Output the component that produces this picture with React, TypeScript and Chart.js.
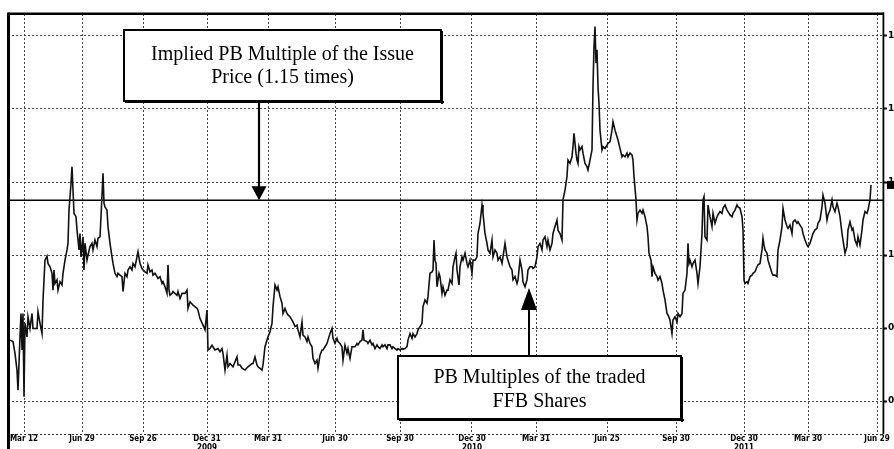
import React, { useEffect, useRef } from "react";
import { Chart, registerables } from "chart.js";

Chart.register(...registerables);

// trading-day index (0 = first session shown) and PB multiple of the traded FFB shares
const days = [
  2, 5, 7, 9, 10, 11, 12, 13, 14, 15, 16, 17, 19, 20, 22, 24, 25, 29, 30, 32, 34, 35, 37, 39, 40, 42, 44, 45, 46, 47,
  49, 50, 52, 54, 55, 57, 59, 60, 61, 63, 64, 65, 66, 68, 69, 71, 72, 73, 75, 76, 77, 79, 80, 82, 84, 85, 87, 89, 90, 92,
  93, 95, 96, 97, 99, 100, 102, 104, 105, 107, 109, 110, 112, 114, 115, 117, 119, 120, 122, 124, 125, 127, 129, 130, 132, 134, 135, 137, 139, 140,
  142, 144, 145, 147, 149, 150, 152, 154, 155, 157, 159, 160, 161, 162, 164, 165, 169,
  170, 172, 174, 177, 179, 180, 182, 185, 189, 190, 192, 195, 197, 199, 200, 202, 204, 207, 210, 212, 214, 215, 217, 219, 220, 222, 225, 227, 229, 230,
  232, 234, 237, 240, 244, 245, 247, 249, 250, 252, 254, 255, 257, 260, 262, 264, 265, 267, 269, 270, 272, 274, 275, 277, 279, 280, 282, 284, 285, 287,
  289, 290, 292, 294, 295, 297, 299, 300, 302, 304, 305, 307, 309, 310, 312, 314, 315, 317, 319, 320, 322, 324, 325, 327, 329, 330, 332, 334, 335, 337,
  339, 340, 342, 344, 347,
  349, 350, 352, 354, 355, 356, 359, 360, 362, 364, 365, 367, 369, 370, 372, 374, 375, 377, 379, 380, 382, 384, 385, 387, 389, 390, 392, 394, 395, 397,
  399, 400, 402, 404, 405, 407, 409, 410, 412, 414, 415, 417, 419, 420, 422, 424, 425, 426, 427, 428, 429, 431, 432, 434, 435, 437, 439, 440, 442, 444,
  445, 447, 448, 449, 451, 452, 454, 455, 457, 459, 460, 462, 464, 465, 467, 469, 470, 472, 474, 475, 477, 479, 480, 482, 484, 485, 487, 489, 490, 492,
  494, 495, 497, 499, 500, 502, 504, 505, 507, 509, 510, 512, 514, 515, 517, 519, 520, 522,
  524, 525, 527, 529, 530, 532, 534, 535, 537, 539, 540, 542, 544, 545, 547, 549, 550, 552, 554, 555, 557, 559, 560, 562, 564, 565, 566, 568, 569, 570,
  571, 572, 574, 575, 577, 579, 580, 582, 584, 585, 586, 587, 588, 589, 590, 591, 592, 594, 595, 597, 599, 600, 602, 604, 605, 607, 609, 610, 612, 614,
  615, 617, 619, 620, 622, 624, 625, 626, 628, 629, 630, 632, 634, 635, 637, 639, 640, 641, 643, 644, 645, 647, 649, 650, 652, 654, 655, 657, 659, 660,
  662, 664, 665, 667, 669, 670, 672, 674, 675, 677, 679, 680, 681, 682, 684, 685, 687, 689, 690, 692, 694, 695,
  696, 697, 699, 700, 702, 704, 705, 707, 709, 710, 712, 714, 715, 717, 719, 720, 722, 724, 725, 727, 729, 730, 732, 734, 735, 736, 737, 739, 740, 742,
  744, 745, 747, 749, 750, 752, 754, 755, 756, 757, 759, 760, 762, 764, 765, 767, 769, 770, 772, 774, 775, 777, 779, 780, 782, 784, 785, 787, 789, 790,
  792, 794, 795, 797, 799, 800, 802, 804, 805, 807, 809, 810, 812, 814, 815, 817, 819, 820, 822, 824, 825, 827, 829, 830, 832, 834, 835, 837, 839, 840,
  842, 844, 845, 847, 849, 850, 852, 854, 855, 857, 859, 860, 862, 863,
];

const pbMultiple = [
  0.767, 0.763, 0.731, 0.685, 0.63, 0.703, 0.776, 0.84, 0.74, 0.84, 0.612, 0.813, 0.776, 0.831, 0.799, 0.84, 0.799, 0.799, 0.845, 0.813, 0.785, 0.877, 0.986, 0.997, 0.977, 0.968, 0.95, 0.904, 0.959, 0.922,
  0.932, 0.904, 0.927, 0.918, 0.95, 0.986, 1.014, 1.032, 1.123, 1.196, 1.242, 1.178, 1.114, 1.105, 1.069, 1.014, 1.059, 0.995, 1.05, 0.959, 1.032, 0.986, 1.0, 1.023, 1.032, 1.014, 1.041, 1.023, 1.046, 1.05,
  1.105, 1.224, 1.142, 1.132, 1.123, 1.078, 1.032, 0.995, 0.977, 0.95, 0.941, 0.95, 0.945, 0.941, 0.9, 0.95, 0.941, 0.959, 0.968, 0.959, 0.977, 0.968, 0.995, 1.009, 0.977, 0.963, 0.959, 0.954, 0.95, 0.973,
  0.954, 0.959, 0.945, 0.95, 0.941, 0.936, 0.941, 0.922, 0.927, 0.913, 0.895, 0.973, 0.904, 0.89, 0.895, 0.9, 0.89,
  0.9, 0.881, 0.895, 0.895, 0.904, 0.854, 0.872, 0.863, 0.854, 0.849, 0.826, 0.808, 0.795, 0.849, 0.74, 0.744, 0.753, 0.74, 0.744, 0.735, 0.744, 0.731, 0.685, 0.726, 0.694, 0.703, 0.694, 0.708, 0.721, 0.699,
  0.699, 0.69, 0.685, 0.694, 0.703, 0.703, 0.721, 0.699, 0.694, 0.69, 0.685, 0.699, 0.749, 0.776, 0.79, 0.813, 0.858, 0.918, 0.904, 0.913, 0.886, 0.868, 0.84, 0.854, 0.84, 0.836, 0.831, 0.822, 0.817, 0.804,
  0.808, 0.795, 0.776, 0.817, 0.781, 0.776, 0.763, 0.776, 0.758, 0.749, 0.717, 0.703, 0.712, 0.69, 0.726, 0.74, 0.74, 0.749, 0.758, 0.767, 0.785, 0.799, 0.772, 0.758, 0.772, 0.763, 0.758, 0.749, 0.712, 0.753,
  0.731, 0.744, 0.717, 0.749, 0.749,
  0.758, 0.754, 0.763, 0.767, 0.795, 0.767, 0.763, 0.758, 0.767, 0.754, 0.758, 0.744, 0.754, 0.749, 0.744, 0.754, 0.749, 0.754, 0.744, 0.754, 0.754, 0.744, 0.749, 0.744, 0.74, 0.744, 0.74, 0.744, 0.742, 0.744,
  0.749, 0.767, 0.785, 0.772, 0.785, 0.776, 0.785, 0.795, 0.804, 0.813, 0.859, 0.877, 0.868, 0.886, 0.95, 0.954, 0.959, 1.041, 0.986, 0.977, 0.913, 0.95, 0.941, 0.895, 0.913, 0.89, 0.904, 0.904, 0.932, 0.922,
  0.968, 0.995, 1.005, 0.959, 0.918, 0.968, 0.995, 0.986, 1.005, 0.977, 0.968, 0.986, 0.95, 0.986, 0.986, 0.995, 1.059, 1.087, 1.137, 1.114, 1.059, 1.032, 1.014, 1.005, 1.041, 0.995, 1.014, 1.005, 0.986, 0.995,
  0.977, 0.995, 1.032, 0.995, 0.986, 0.968, 0.959, 0.932, 0.941, 0.922, 0.932, 0.986, 0.959, 0.927, 0.913, 0.932, 0.959, 0.968,
  0.968, 0.963, 0.968, 0.995, 1.023, 1.032, 1.014, 1.041, 1.05, 1.023, 1.041, 1.014, 1.032, 1.059, 1.078, 1.096, 1.068, 1.059, 1.041, 1.151, 1.178, 1.215, 1.26, 1.251, 1.269, 1.297, 1.333, 1.279, 1.26, 1.251,
  1.297, 1.288, 1.297, 1.279, 1.251, 1.242, 1.233, 1.26, 1.288, 1.461, 1.571, 1.626, 1.525, 1.562, 1.461, 1.415, 1.342, 1.288, 1.297, 1.292, 1.301, 1.306, 1.31, 1.342, 1.365, 1.342, 1.324, 1.315, 1.292, 1.269,
  1.274, 1.269, 1.279, 1.269, 1.279, 1.274, 1.26, 1.215, 1.151, 1.096, 1.114, 1.123, 1.114, 1.123, 1.105, 1.078, 1.05, 1.005, 0.986, 0.941, 0.968, 0.95, 0.941, 0.931, 0.941, 0.922, 0.904, 0.877, 0.84, 0.836,
  0.822, 0.785, 0.822, 0.831, 0.817, 0.84, 0.831, 0.84, 0.895, 0.904, 0.95, 1.032, 0.977, 0.986, 0.968, 0.977, 0.986, 0.95, 0.922, 0.968, 1.059, 1.151,
  1.16, 1.05, 1.041, 1.137, 1.105, 1.078, 1.114, 1.087, 1.105, 1.11, 1.119, 1.114, 1.128, 1.137, 1.123, 1.119, 1.11, 1.105, 1.114, 1.123, 1.137, 1.132, 1.128, 1.105, 1.069, 0.932, 0.922, 0.927, 0.922, 0.941,
  0.945, 0.95, 0.954, 0.968, 0.973, 0.977, 1.014, 1.046, 1.027, 1.014, 1.005, 0.986, 0.968, 0.95, 0.945, 0.945, 0.941, 1.014, 1.041, 1.078, 1.128, 1.096, 1.078, 1.073, 1.082, 1.059, 1.091, 1.096, 1.087, 1.091,
  1.082, 1.073, 1.059, 1.041, 1.027, 1.023, 1.032, 1.05, 1.059, 1.069, 1.073, 1.087, 1.096, 1.132, 1.164, 1.142, 1.096, 1.11, 1.123, 1.151, 1.132, 1.119, 1.142, 1.132, 1.105, 1.059, 1.041, 1.005, 1.023, 1.069,
  1.091, 1.069, 1.073, 1.041, 1.027, 1.05, 1.027, 1.069, 1.096, 1.119, 1.114, 1.123, 1.151, 1.192,
];

const issueDays = [0, 875];
const issueMultiple = [1.15, 1.15];

const tickDays = [16, 74, 135, 199, 260, 327, 392, 464, 528, 599, 668, 736, 800, 869];
const tickLabels = [
  ["Mar 12"], ["Jun 29"], ["Sep 26"], ["Dec 31", "2009"], ["Mar 31"], ["Jun 30"], ["Sep 30"],
  ["Dec 30", "2010"], ["Mar 31"], ["Jun 25"], ["Sep 30"], ["Dec 30", "2011"], ["Mar 30"], ["Jun 29"],
];
const yTickValues = [0.6, 0.8, 1.0, 1.2, 1.4, 1.6];

const issueNote = ["Implied PB Multiple of the Issue", "Price (1.15 times)"];
const tradedNote = ["PB Multiples of the traded", "FFB Shares"];
const issueArrowAt = { day: 251, value: 1.15 };
const tradedArrowAt = { day: 521, value: 0.91 };

const SERIF = '"Liberation Serif", "Times New Roman", serif';

function drawBox(ctx: CanvasRenderingContext2D, l: number, t: number, r: number, b: number) {
  ctx.fillStyle = "#fff";
  ctx.fillRect(l, t, r - l, b - t);
  ctx.strokeStyle = "#000";
  ctx.lineWidth = 2;
  ctx.setLineDash([]);
  ctx.strokeRect(l + 1, t + 1, r - l - 2, b - t - 2);
  ctx.fillStyle = "#000";
  ctx.fillRect(r - 1, t + 2, 2, b - t);
  ctx.fillRect(l + 2, b - 1, r - l, 2);
}

const framePlugin = {
  id: "frame",
  beforeDraw(chart: any) {
    const { ctx, width, height } = chart;
    ctx.save();
    ctx.fillStyle = "#fff";
    ctx.fillRect(0, 0, width, height);
    ctx.restore();
  },
  afterDraw(chart: any) {
    const { ctx, chartArea: ca, scales } = chart;
    const xs = scales.x;
    const ys = scales.y;
    ctx.save();
    // dotted bottom axis
    ctx.strokeStyle = "#333";
    ctx.lineWidth = 1;
    ctx.setLineDash([2, 2]);
    ctx.beginPath();
    ctx.moveTo(ca.left, ca.bottom + 0.5);
    ctx.lineTo(ca.right, ca.bottom + 0.5);
    ctx.stroke();
    ctx.setLineDash([]);
    // frame
    ctx.fillStyle = "#000";
    ctx.fillRect(ca.left, ca.top - 1.5, ca.right - ca.left + 1, 2.5);
    ctx.fillRect(ca.left - 1, ca.top - 1.5, 3, chart.height - ca.top + 1.5);
    ctx.fillRect(ca.right - 0.5, ca.top - 1.5, 1.8, ca.bottom - ca.top + 1.5);

    // last value tag (clipped by the page edge, as in the scan)
    const last = pbMultiple[pbMultiple.length - 1];
    const ly = ys.getPixelForValue(last);
    ctx.fillStyle = "#000";
    ctx.fillRect(ca.right + 4, ly - 4, 30, 8);
    ctx.fillStyle = "#fff";
    ctx.font = "bold 8px 'DejaVu Sans', sans-serif";
    ctx.textAlign = "left";
    ctx.textBaseline = "middle";
    ctx.fillText(last.toFixed(2), ca.right + 12, ly);

    // note 1
    const a1x = xs.getPixelForValue(issueArrowAt.day);
    const a1y = ys.getPixelForValue(issueArrowAt.value);
    const b1 = { l: 123, t: 29, r: 442, b: 102 };
    drawBox(ctx, b1.l, b1.t, b1.r, b1.b);
    ctx.fillStyle = "#000";
    ctx.font = `20px ${SERIF}`;
    ctx.textAlign = "center";
    ctx.textBaseline = "alphabetic";
    const c1 = (b1.l + b1.r) / 2;
    ctx.fillText(issueNote[0], c1, b1.t + 31);
    ctx.fillText(issueNote[1], c1, b1.t + 54);
    ctx.strokeStyle = "#000";
    ctx.lineWidth = 2.2;
    ctx.beginPath();
    ctx.moveTo(a1x, b1.b);
    ctx.lineTo(a1x, a1y - 12);
    ctx.stroke();
    ctx.beginPath();
    ctx.moveTo(a1x - 7.5, a1y - 14);
    ctx.lineTo(a1x + 7.5, a1y - 14);
    ctx.lineTo(a1x, a1y);
    ctx.closePath();
    ctx.fill();

    // note 2
    const a2x = xs.getPixelForValue(tradedArrowAt.day);
    const a2y = ys.getPixelForValue(tradedArrowAt.value);
    const b2 = { l: 397, t: 355, r: 682, b: 420 };
    drawBox(ctx, b2.l, b2.t, b2.r, b2.b);
    ctx.fillStyle = "#000";
    const c2 = (b2.l + b2.r) / 2;
    ctx.fillText(tradedNote[0], c2, b2.t + 28);
    ctx.fillText(tradedNote[1], c2, b2.t + 52);
    ctx.beginPath();
    ctx.moveTo(a2x, b2.t);
    ctx.lineTo(a2x, a2y + 20);
    ctx.stroke();
    ctx.beginPath();
    ctx.moveTo(a2x - 8, a2y + 22);
    ctx.lineTo(a2x + 8, a2y + 22);
    ctx.lineTo(a2x, a2y);
    ctx.closePath();
    ctx.fill();
    ctx.restore();
  },
};

export default function App() {
  const ref = useRef<HTMLCanvasElement | null>(null);
  useEffect(() => {
    if (!ref.current) return;
    const chart = new Chart(ref.current, {
      type: "line",
      data: {
        datasets: [
          {
            data: days.map((d, i) => ({ x: d, y: pbMultiple[i] })),
            borderColor: "#111",
            borderWidth: 1.6,
            pointRadius: 0,
            tension: 0,
            fill: false,
          },
          {
            data: issueDays.map((d, i) => ({ x: d, y: issueMultiple[i] })),
            borderColor: "#000",
            borderWidth: 1.6,
            pointRadius: 0,
            fill: false,
          },
        ],
      },
      options: {
        animation: false,
        responsive: false,
        layout: { padding: { left: 8, top: 14, right: 0, bottom: 0 } },
        plugins: { legend: { display: false }, tooltip: { enabled: false } },
        scales: {
          x: {
            type: "linear",
            min: 0,
            max: 875,
            bounds: "data",
            afterBuildTicks: (s: any) => {
              s.ticks = tickDays.map((v) => ({ value: v }));
            },
            afterFit: (s: any) => {
              s.height = 15;
            },
            ticks: {
              autoSkip: false,
              maxRotation: 0,
              minRotation: 0,
              padding: 1,
              color: "#000",
              font: { family: "'Liberation Sans Narrow', 'DejaVu Sans Condensed', sans-serif", size: 8, weight: "bold", lineHeight: 1.1 },
              callback: (_v: any, i: number) => tickLabels[i],
            },
            grid: { color: "rgba(40,40,40,0.85)", lineWidth: 1, drawTicks: false },
            border: { display: false, dash: [2, 2] },
          },
          y: {
            type: "linear",
            position: "right",
            min: 0.51,
            max: 1.66,
            bounds: "data",
            afterBuildTicks: (s: any) => {
              s.ticks = yTickValues.map((v) => ({ value: v }));
            },
            afterFit: (s: any) => {
              s.width = 11;
            },
            ticks: {
              padding: 1,
              color: "#000",
              font: { family: "'DejaVu Sans', sans-serif", size: 9, weight: "bold" },
              callback: (v: any) => Number(v).toFixed(1),
            },
            grid: { color: "rgba(40,40,40,0.85)", lineWidth: 1, tickLength: 4, tickColor: "#000", tickWidth: 2 },
            border: { display: false, dash: [2, 2] },
          },
        },
      },
      plugins: [framePlugin],
    });
    return () => chart.destroy();
  }, []);
  return (
    <div style={{ position: "fixed", left: 0, top: 0, width: 894, height: 449, overflow: "hidden", background: "#fff" }}>
      <canvas ref={ref} width={894} height={449} style={{ width: 894, height: 449, display: "block" }} />
    </div>
  );
}
